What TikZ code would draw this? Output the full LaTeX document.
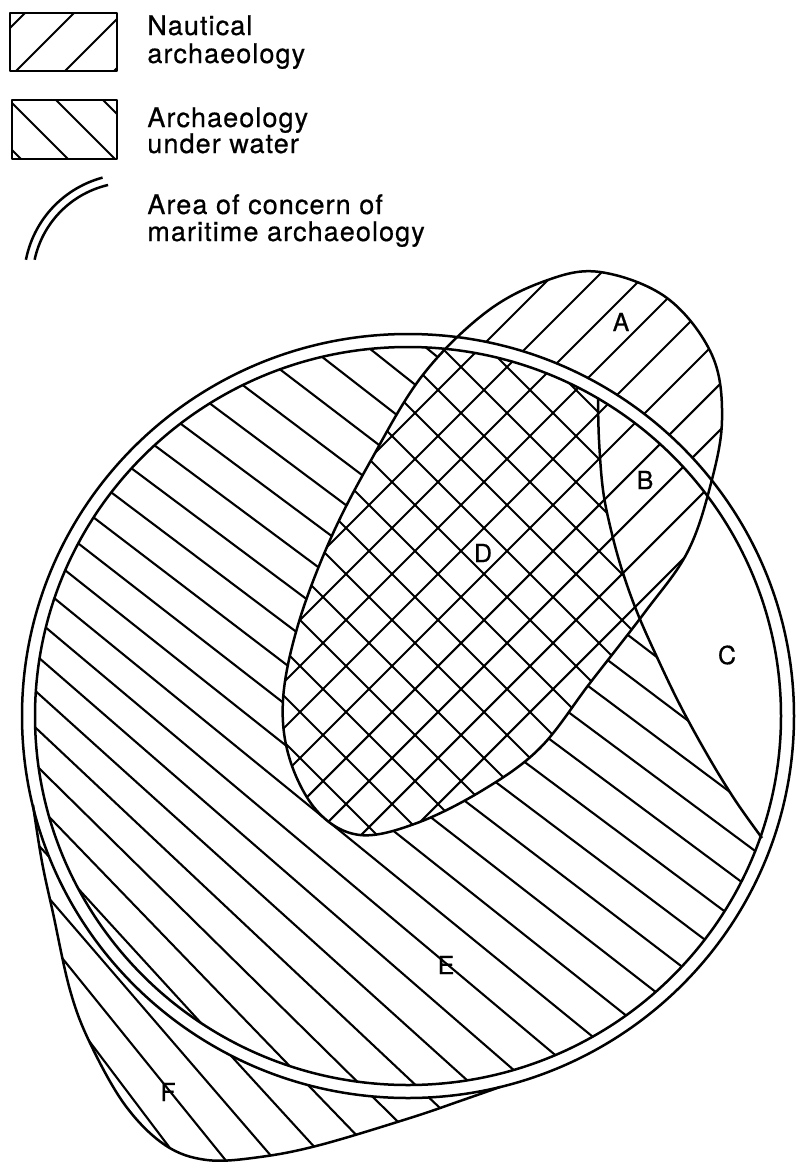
\documentclass[tikz,border=0pt]{standalone}
\usepackage{fontspec}
\setmainfont{TeX Gyre Heros}[LetterSpace=4, FakeBold=0.6]

\newcommand{\eggcurve}{plot[smooth cycle, tension=0.6] coordinates {(600,272) (667,298) (712,355) (722,420) (710,487) (687,553) (645,612) (590,683) (540,748) (483,790) (417,823) (360,835) (318,812) (290,760) (283,700) (298,625) (330,540) (370,462) (422,376) (485,313) (545,281)}}
\newcommand{\uwcurve}{plot[smooth, tension=0.6] coordinates {(598,398) (599,440) (603,490) (611,530) (622,570) (637,612) (656,655) (680,705) (708,756) (735,800) (762,838)}}
\newcommand{\fcurve}{plot[smooth, tension=0.6] coordinates {(33,805) (42,862) (53,913) (70,990) (90,1043) (125,1105) (165,1145) (207,1160) (260,1157) (320,1145) (410,1118) (460,1101) (500,1087)}}

\begin{document}
\begin{tikzpicture}[x=0.5pt,y=-0.5pt,
  outline/.style={line width=1.25pt, line join=round},
  hatch/.style={line width=1.05pt},
  lbl/.style={font=\fontsize{12.5}{14}\selectfont, inner sep=0pt},
  legendtext/.style={font=\fontsize{13.5}{16}\selectfont, inner sep=0pt, anchor=base west}]

\useasboundingbox (0,0) rectangle (796,1162);

% legend
\draw[outline] (10,13) rectangle (117,71);
\begin{scope}
\clip (10,13) rectangle (117,71);
\foreach \c in {38,87,136,185} \draw[hatch] (\c+100,-100) -- (\c-200,200);
\end{scope}
\draw[outline] (12,100) rectangle (117,159);
\begin{scope}
\clip (12,100) rectangle (117,159);
\foreach \c in {-3,44,91,138} \draw[hatch] (-100,\c-100) -- (300,\c+300);
\end{scope}
\draw[outline] plot[domain=191:255, variable=\t, samples=30, smooth] ({130+106*cos(\t)},{280+106*sin(\t)});
\draw[outline] plot[domain=192:257, variable=\t, samples=30, smooth] ({130+97.5*cos(\t)},{280+97.5*sin(\t)});

\node[legendtext] (naut1) at (147,35) {Nautical};
\node[legendtext] (naut2) at (147,63) {archaeology};
\node[legendtext] (uw1) at (147,127) {Archaeology};
\node[legendtext] (uw2) at (147,153) {under water};
\node[legendtext] (area1) at (147,214) {Area of concern of};
\node[legendtext] (area2) at (147,241) {maritime archaeology};

% archaeology under water
\begin{scope}
\clip (408,716) ellipse [x radius=373, y radius=369];
\clip \uwcurve -- (830,900) -- (830,1250) -- (-50,1250) -- (-50,-50) -- (598,-50) -- cycle;
\foreach \k in {-12,...,15}{
  \pgfmathsetmacro{\th}{37+0.06*(\k)*(\k)+0.3*(\k)}
  \draw[hatch] ({408-21.2*(\k)-1100*cos(\th)},{716+25.3*(\k)-1100*sin(\th)}) -- ++({2200*cos(\th)},{2200*sin(\th)});
}
\end{scope}
\begin{scope}
\clip \fcurve -- plot[domain=76.2:166.5, variable=\t, samples=40] ({408+386*cos(\t)},{716+382*sin(\t)}) -- cycle;
\foreach \k in {-12,...,15}{
  \pgfmathsetmacro{\th}{37+0.06*(\k)*(\k)+0.3*(\k)}
  \draw[hatch] ({408-21.2*(\k)-1100*cos(\th)},{716+25.3*(\k)-1100*sin(\th)}) -- ++({2200*cos(\th)},{2200*sin(\th)});
}
\end{scope}

% nautical archaeology
\fill[white] \eggcurve;
\begin{scope}
\clip \eggcurve;
\foreach \c in {782,828,...,1334} \draw[hatch] (\c+100,-100) -- (\c-1300,1300);
\end{scope}
\begin{scope}
\clip \eggcurve;
\clip (408,716) ellipse [x radius=373, y radius=369];
\clip \uwcurve -- (830,900) -- (830,1250) -- (-50,1250) -- (-50,-50) -- (598,-50) -- cycle;
\foreach \c in {-370,-324,...,504} \draw[hatch] (-100,\c-100) -- (1300,\c+1300);
\end{scope}

% maritime archaeology
\fill[white, even odd rule] (408,716) ellipse [x radius=386, y radius=382] (408,716) ellipse [x radius=373, y radius=369];
\draw[outline] (408,716) ellipse [x radius=386, y radius=382];
\draw[outline] (408,716) ellipse [x radius=373, y radius=369];

\draw[outline] \eggcurve;
\draw[outline] \uwcurve;
\draw[outline] \fcurve;

\node[lbl] (labA) at (621,322) {A};
\node[lbl] (labB) at (645,480) {B};
\node[lbl] (labC) at (727,655) {C};
\node[lbl] (labD) at (483,553) {D};
\node[lbl] (labE) at (446,965) {E};
\node[lbl] (labF) at (168,1092) {F};

\end{tikzpicture}
\end{document}
